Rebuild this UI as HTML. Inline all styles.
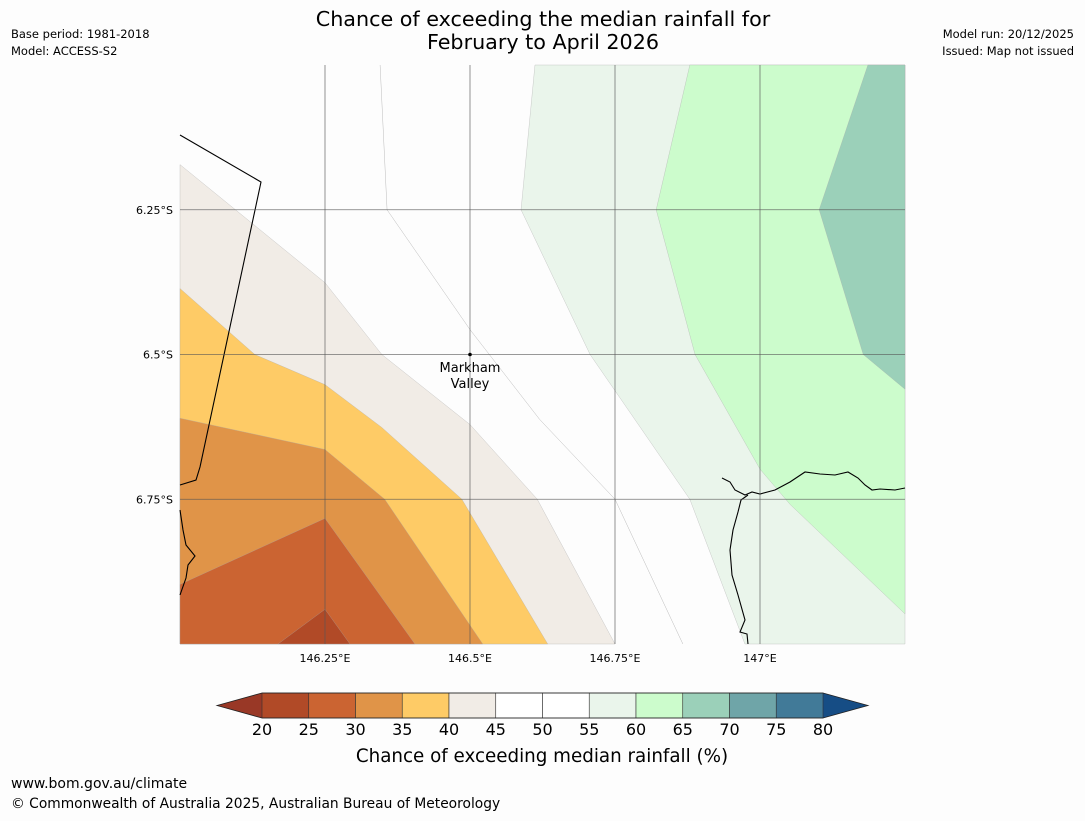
<!DOCTYPE html>
<html><head><meta charset="utf-8"><style>
body{margin:0;background:#fdfdfd;font-family:"Liberation Sans","DejaVu Sans",sans-serif;}
svg text{font-family:"DejaVu Sans","Liberation Sans",sans-serif;}
</style></head><body>
<svg id="chart" width="1085" height="816" viewBox="0 0 1085 816" xmlns="http://www.w3.org/2000/svg">
<rect width="1085" height="816" fill="#fdfdfd"/>
<text x="543" y="26" font-size="20.7" text-anchor="middle">Chance of exceeding the median rainfall for</text>
<text x="543" y="49" font-size="20.7" text-anchor="middle">February to April 2026</text>
<text x="11" y="38" font-size="11.5">Base period: 1981-2018</text>
<text x="11" y="55" font-size="11.5">Model: ACCESS-S2</text>
<text x="1074" y="38" font-size="11.5" text-anchor="end">Model run: 20/12/2025</text>
<text x="1074" y="55" font-size="11.5" text-anchor="end">Issued: Map not issued</text>
<g id="map"></g>
<g id="cbar"></g>
<text x="542" y="762" font-size="18.3" text-anchor="middle">Chance of exceeding median rainfall (%)</text>
<text x="11" y="788" font-size="14">www.bom.gov.au/climate</text>
<text x="11" y="808" font-size="13.8">© Commonwealth of Australia 2025, Australian Bureau of Meteorology</text>
</svg>
<script>
const NS="http://www.w3.org/2000/svg";
const cbTicks=[20,25,30,35,40,45,50,55,60,65,70,75,80];
const cbColors=["#b14a27","#cb6432","#e09448","#fecb66","#f1ece6","#ffffff","#ffffff","#eaf5eb","#ccfccc","#9bd0b9","#6fa5a8","#417a98"];
const lowColor="#993826", highColor="#164d85";
const lonTicks=[146.25,146.5,146.75,147];
const latTicks=[6.25,6.5,6.75];
const lonRange=[146,147.25], latRange=[6.0,7.0];
// contour regions [lon, latS]
const region40=[[146,6.172],[146.25,6.376],[146.348,6.5],[146.5,6.621],[146.616,6.75],[146.75,7.0],[146,7.0]];
const region35=[[146,6.386],[146.129,6.5],[146.25,6.552],[146.348,6.626],[146.486,6.75],[146.634,7.0],[146,7.0]];
const region30=[[146,6.61],[146.25,6.664],[146.353,6.75],[146.522,7.0],[146,7.0]];
const region25=[[146,6.897],[146.25,6.783],[146.405,7.0],[146,7.0]];
const region20=[[146.169,7.0],[146.25,6.94],[146.293,7.0]];
const region55=[[146.612,6.0],[147.25,6.0],[147.25,7.0],[146.974,7.0],[146.879,6.75],[146.707,6.5],[146.588,6.25]];
const region60=[[146.879,6.0],[147.25,6.0],[147.25,6.948],[147.052,6.759],[147.0,6.698],[146.888,6.5],[146.821,6.25]];
const region65=[[147.186,6.0],[147.25,6.0],[147.25,6.56],[147.178,6.5],[147.102,6.25]];
const line50=[[146.345,6.0],[146.357,6.25],[146.5,6.457],[146.62,6.612],[146.75,6.75],[146.867,7.0]];
const regions=[[region40,"#f1ece6"],[region35,"#fecb66"],[region30,"#e09448"],[region25,"#cb6432"],[region20,"#b14a27"],[region55,"#eaf5eb"],[region60,"#ccfccc"],[region65,"#9bd0b9"]];
const X0=180,X1=905,Y0=65,Y1=644;
const sx=lon=>X0+(lon-lonRange[0])/(lonRange[1]-lonRange[0])*(X1-X0);
const sy=lat=>Y0+(lat-latRange[0])/(latRange[1]-latRange[0])*(Y1-Y0);
function mk(tag,attrs,parent){const e=document.createElementNS(NS,tag);for(const k in attrs)e.setAttribute(k,attrs[k]);parent.appendChild(e);return e;}
const map=document.getElementById('map');
let bg=mk('rect',{x:X0,y:Y0,width:X1-X0,height:Y1-Y0,fill:'#fdfdfd'},map);


regions.forEach(([pts,col],i)=>{
 const p=mk('polygon',{points:pts.map(q=>sx(q[0])+','+sy(q[1])).join(' '),fill:col,stroke:'#aaa','stroke-width':0.3},map);
 
 
});
let l50=mk('polyline',{points:line50.map(q=>sx(q[0])+','+sy(q[1])).join(' '),fill:'none',stroke:'#bbb','stroke-width':0.5},map);


// coastlines
const coasts=["180,135 261,182 200,467 196,480 180,485","180,510 183,530 186,545 195,556 188,565 186,578 180,595","722,478 730,482 735,490 745,495 752,492 760,494 775,490 790,482 805,472 820,474 835,475 848,472 858,478 865,485 872,490 880,489 895,490 905,488","748,495 741,500 738,512 733,530 730,550 732,575 738,595 745,620 740,632 747,634 748,644"];
coasts.forEach(c=>{const e=mk('polyline',{points:c,fill:'none',stroke:'#000','stroke-width':1.1},map);
 
 });
lonTicks.forEach(v=>{const x=sx(v);
 const g=mk('line',{x1:x,x2:x,y1:Y0,y2:Y1,stroke:'#555','stroke-width':0.8,'stroke-opacity':0.8},map);
 
 
 const t=mk('text',{x:x,y:662,'font-size':11,'text-anchor':'middle'},map);t.textContent=v+'°E';
 
 });
latTicks.forEach(v=>{const y=sy(v);
 const g=mk('line',{x1:X0,x2:X1,y1:y,y2:y,stroke:'#555','stroke-width':0.8,'stroke-opacity':0.8},map);
 
 
 const t=mk('text',{x:173,y:y+4,'font-size':11,'text-anchor':'end'},map);t.textContent=v+'°S';
 
 });
let dot=mk('circle',{cx:sx(146.5),cy:sy(6.5),r:1.8,fill:'#000'},map);


[["Markham",372],["Valley",388]].forEach(([s,y])=>{const t=mk('text',{x:470,y:y,'font-size':13,'text-anchor':'middle'},map);t.textContent=s;
 
 });
// colorbar
const cb=document.getElementById('cbar');
const C0=262,C1=823,CY=693,CH=25;
const cx=v=>C0+(v-cbTicks[0])/(cbTicks[cbTicks.length-1]-cbTicks[0])*(C1-C0);
let lo=mk('polygon',{points:`${C0},${CY} ${217},${CY+CH/2} ${C0},${CY+CH}`,fill:lowColor},cb);


let hi=mk('polygon',{points:`${C1},${CY} ${868},${CY+CH/2} ${C1},${CY+CH}`,fill:highColor},cb);


cbColors.forEach((c,i)=>{const r=mk('rect',{x:cx(cbTicks[i]),y:CY,width:cx(cbTicks[i+1])-cx(cbTicks[i]),height:CH,fill:c,stroke:'#333','stroke-width':0.6},cb);
 
 });
let ol=mk('polygon',{points:`217,${CY+CH/2} ${C0},${CY} ${C1},${CY} 868,${CY+CH/2} ${C1},${CY+CH} ${C0},${CY+CH}`,fill:'none',stroke:'#222','stroke-width':0.8},cb);


cbTicks.forEach(v=>{const t=mk('text',{x:cx(v),y:735,'font-size':16,'text-anchor':'middle'},cb);t.textContent=v;
 
 });
</script>
</body></html>
